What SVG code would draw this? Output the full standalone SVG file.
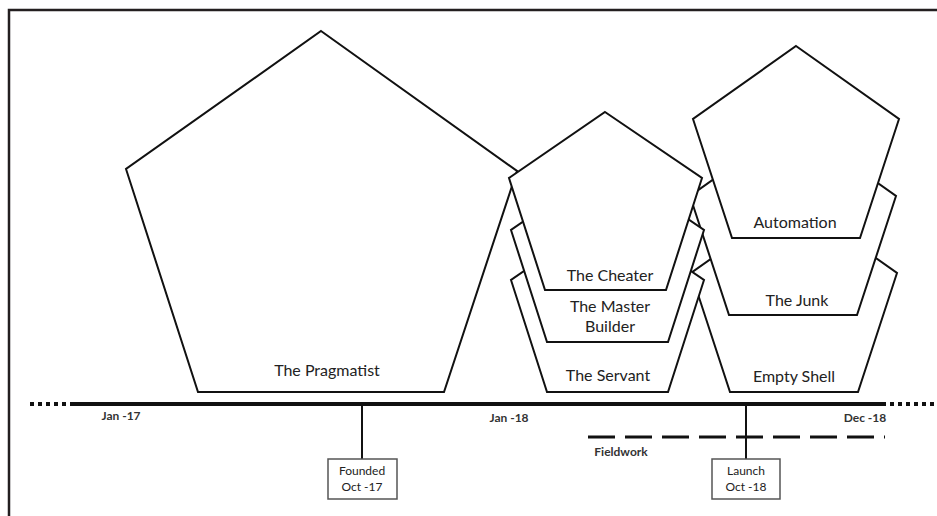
<svg xmlns="http://www.w3.org/2000/svg" width="937" height="516" viewBox="0 0 937 516">
<style>
.pent{fill:#fff;stroke:#111;stroke-width:2;stroke-linejoin:miter}
.lbl{font-family:Lato,"Liberation Sans",sans-serif;font-size:16px;fill:#222;text-anchor:middle}
.tl{font-family:Lato,"Liberation Sans",sans-serif;font-size:12px;font-weight:bold;fill:#333;text-anchor:middle}
.box{fill:#fff;stroke:#555;stroke-width:1.5}
.bt{font-family:Lato,"Liberation Sans",sans-serif;font-size:12px;fill:#222;text-anchor:middle}
</style>
<rect width="937" height="516" fill="#fff"/>
<path d="M9,516 V10 H937" fill="none" stroke="#231f20" stroke-width="2.5"/>

<g id="pragmatist">
<polygon class="pent" points="321,31 517,171 444,392 198,392 126,169"/>
<text class="lbl" x="327" y="376">The Pragmatist</text>
</g>

<g id="empty-shell">
<polygon class="pent" points="794,200 897,273 858,392 730,392 691,273"/>
<text class="lbl" x="794" y="382">Empty Shell</text>
</g>
<g id="the-junk">
<polygon class="pent" points="793,123 896,196 857,315 729,315 690,196"/>
<text class="lbl" x="797" y="306">The Junk</text>
</g>
<g id="automation">
<polygon class="pent" points="796,46 899,119 860,238 732,238 693,119"/>
<text class="lbl" x="795" y="228">Automation</text>
</g>

<g id="the-servant">
<polygon class="pent" points="607,214 704,280 668,392 547,392 511,280"/>
<text class="lbl" x="608" y="381">The Servant</text>
</g>
<g id="the-master-builder">
<polygon class="pent" points="607,164 704,230 668,342 547,342 511,230"/>
<text class="lbl" x="610" y="312">The Master</text>
<text class="lbl" x="610" y="332">Builder</text>
</g>
<g id="the-cheater">
<polygon class="pent" points="605,112 702,178 666,290 545,290 509,178"/>
<text class="lbl" x="610" y="281">The Cheater</text>
</g>

<g id="connectors">
<line x1="72" y1="404" x2="886" y2="404" stroke="#111" stroke-width="4"/>
<line x1="30" y1="404" x2="72" y2="404" stroke="#111" stroke-width="4" stroke-dasharray="4,4"/>
<line x1="890" y1="404" x2="937" y2="404" stroke="#111" stroke-width="4" stroke-dasharray="4,4"/>
<line x1="588" y1="437" x2="885" y2="437" stroke="#111" stroke-width="3" stroke-dasharray="27,10"/>
<line x1="362" y1="404" x2="362" y2="459" stroke="#111" stroke-width="2"/>
<line x1="746" y1="404" x2="746" y2="459" stroke="#111" stroke-width="2"/>
</g>

<g id="labels">
<text class="tl" x="121" y="420">Jan -17</text>
<text class="tl" x="509" y="422">Jan -18</text>
<text class="tl" x="865" y="422">Dec -18</text>
<text class="tl" x="621" y="456">Fieldwork</text>
</g>

<g id="founded">
<rect class="box" x="328" y="459" width="69" height="40"/>
<text class="bt" x="362" y="475">Founded</text>
<text class="bt" x="362" y="491">Oct -17</text>
</g>
<g id="launch">
<rect class="box" x="712" y="459" width="68" height="40"/>
<text class="bt" x="746" y="475">Launch</text>
<text class="bt" x="746" y="491">Oct -18</text>
</g>
</svg>
